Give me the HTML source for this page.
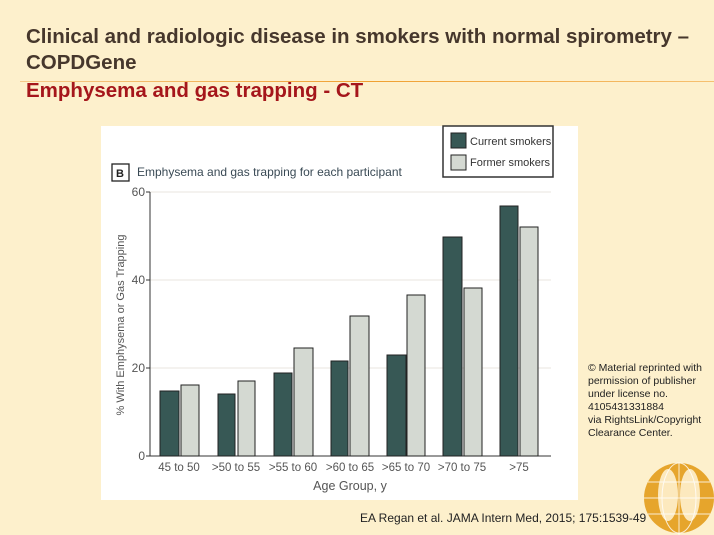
<!DOCTYPE html>
<html><head><meta charset="utf-8"><style>
body{margin:0;width:714px;height:535px;background:#fdf0cc;position:relative;overflow:hidden;font-family:"Liberation Sans",sans-serif}
.t{position:absolute;left:26px;font-weight:bold;font-size:20.5px;color:#46372c;white-space:nowrap}
</style></head><body>
<div class="t" style="top:25px">Clinical and radiologic disease in smokers with normal spirometry –</div>
<div class="t" style="top:51px">COPDGene</div>
<div style="position:absolute;left:20px;top:81px;width:694px;height:1px;background:linear-gradient(90deg,#f5c98a,#f0a030 50%,#f6c070)"></div>
<div class="t" style="top:79px;color:#a5161b">Emphysema and gas trapping - CT</div>
<svg style="position:absolute;left:0;top:0" width="714" height="535">
<rect x="101" y="126" width="477" height="374" fill="#fff"/>
<g font-family="Liberation Sans,sans-serif" fill="#444">
<rect x="443" y="126" width="110" height="51" fill="#fff" stroke="#333" stroke-width="1.5"/>
<rect x="451" y="133" width="15" height="15" fill="#375855" stroke="#222"/>
<rect x="451" y="155" width="15" height="15" fill="#d4d9d2" stroke="#222"/>
<text x="470" y="145" font-size="11" fill="#333">Current smokers</text>
<text x="470" y="166" font-size="11" fill="#333">Former smokers</text>
<rect x="112" y="164" width="17" height="17" fill="none" stroke="#222" stroke-width="1.3"/>
<text x="116" y="177" font-size="11" font-weight="bold" fill="#222">B</text>
<text x="137" y="176" font-size="12" fill="#3a4a55">Emphysema and gas trapping for each participant</text>
<g stroke="#e8e6df"><line x1="150" y1="192" x2="551" y2="192"/><line x1="150" y1="280" x2="551" y2="280"/><line x1="150" y1="368" x2="551" y2="368"/></g>
<g stroke="#333"><line x1="150" y1="192" x2="150" y2="456"/><line x1="146" y1="456" x2="551" y2="456"/>
<line x1="146" y1="192" x2="150" y2="192"/><line x1="146" y1="280" x2="150" y2="280"/><line x1="146" y1="368" x2="150" y2="368"/></g>
<g font-size="12" text-anchor="end" fill="#555"><text x="145" y="196">60</text><text x="145" y="284">40</text><text x="145" y="372">20</text><text x="145" y="460">0</text></g>
<g stroke="#222" stroke-width="1">
<rect x="160" y="391" width="19" height="65" fill="#375855"/><rect x="181" y="385" width="18" height="71" fill="#d4d9d2"/>
<rect x="218" y="394" width="17" height="62" fill="#375855"/><rect x="238" y="381" width="17" height="75" fill="#d4d9d2"/>
<rect x="274" y="373" width="18" height="83" fill="#375855"/><rect x="294" y="348" width="19" height="108" fill="#d4d9d2"/>
<rect x="331" y="361" width="17" height="95" fill="#375855"/><rect x="350" y="316" width="19" height="140" fill="#d4d9d2"/>
<rect x="387" y="355" width="19" height="101" fill="#375855"/><rect x="407" y="295" width="18" height="161" fill="#d4d9d2"/>
<rect x="443" y="237" width="19" height="219" fill="#375855"/><rect x="464" y="288" width="18" height="168" fill="#d4d9d2"/>
<rect x="500" y="206" width="18" height="250" fill="#375855"/><rect x="520" y="227" width="18" height="229" fill="#d4d9d2"/>
</g>
<g font-size="11.5" text-anchor="middle" fill="#555">
<text x="179" y="471">45 to 50</text><text x="236" y="471">&gt;50 to 55</text><text x="293" y="471">&gt;55 to 60</text><text x="350" y="471">&gt;60 to 65</text><text x="406" y="471">&gt;65 to 70</text><text x="462" y="471">&gt;70 to 75</text><text x="519" y="471">&gt;75</text>
<text x="350" y="490" font-size="12.5">Age Group, y</text>
<text transform="translate(124,325) rotate(-90)" font-size="11">% With Emphysema or Gas Trapping</text>
</g></g>
<g font-size="10.5" fill="#222"><text x="588" y="371">© Material reprinted with</text><text x="588" y="384">permission of publisher</text><text x="588" y="397">under license no.</text><text x="588" y="410">4105431331884</text><text x="588" y="423">via  RightsLink/Copyright</text><text x="588" y="436">Clearance Center.</text></g>
<text x="360" y="522" font-size="12" fill="#222">EA Regan et al. JAMA Intern Med, 2015; 175:1539-49</text>
<circle cx="679" cy="498" r="35" fill="#e6a52c"/>
<ellipse cx="668" cy="495" rx="10" ry="26" fill="#fff4d8" opacity="0.85"/><ellipse cx="690" cy="495" rx="10" ry="26" fill="#fff4d8" opacity="0.85"/>
<g stroke="#fff" stroke-width="1" fill="none" opacity="0.8"><ellipse cx="679" cy="498" rx="17" ry="35"/><line x1="644" y1="498" x2="714" y2="498"/><line x1="648" y1="482" x2="710" y2="482"/><line x1="648" y1="514" x2="710" y2="514"/><line x1="679" y1="463" x2="679" y2="535"/></g>
</svg>
</body></html>
